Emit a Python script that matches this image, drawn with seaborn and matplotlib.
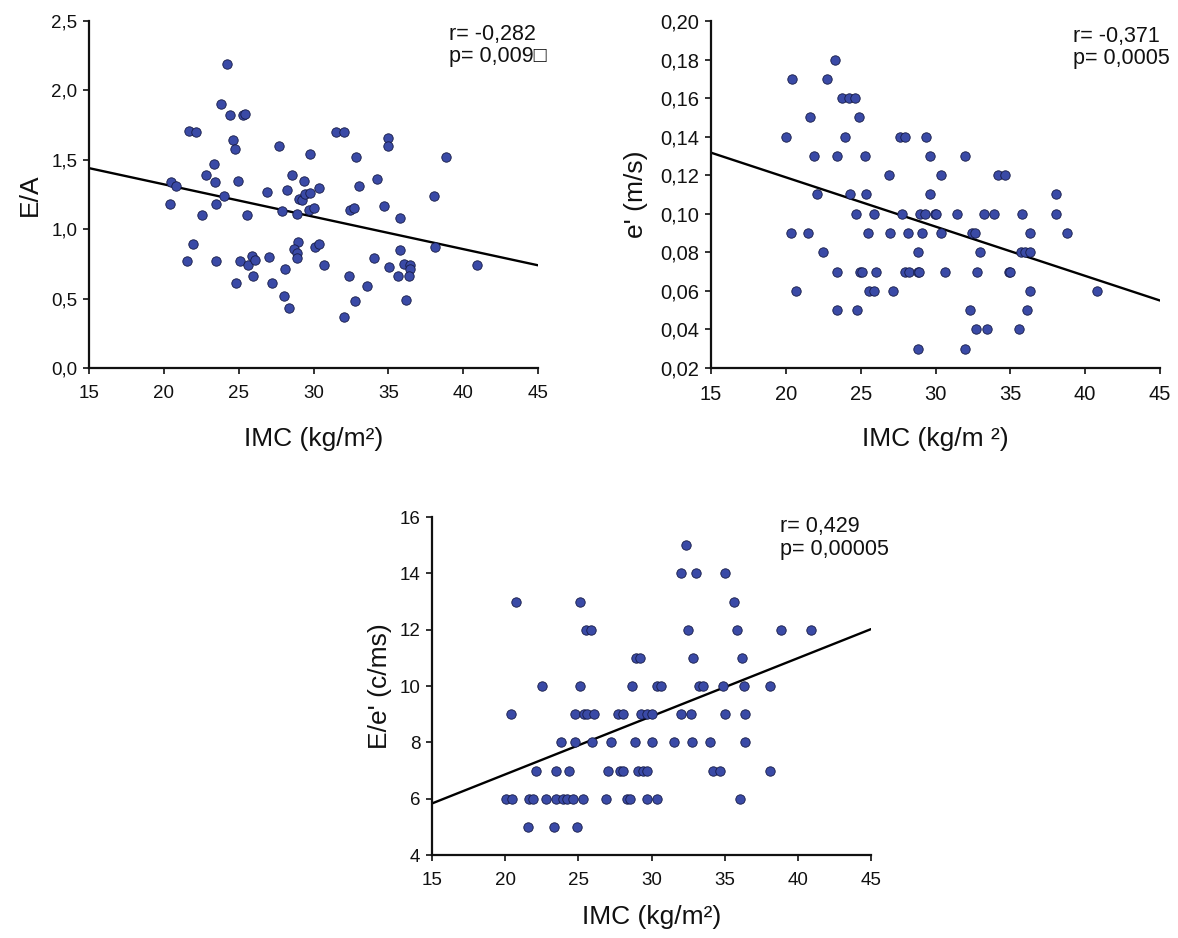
import matplotlib
matplotlib.use("Agg")
import matplotlib.pyplot as plt
import numpy as np
import pandas as pd
import seaborn as sns

# ---------------- data ----------------
# Panel 1: E/A vs IMC
imc_ea = [24.24, 23.84, 24.40, 25.31, 25.44, 21.66, 22.15, 24.64, 24.75, 27.71,
          29.74, 23.33, 22.82, 23.44, 28.56, 29.36, 24.93, 20.45, 20.79, 24.00,
          26.91, 28.25, 29.00, 29.23, 29.41, 29.74, 30.34, 20.41, 23.46, 27.87,
          28.87, 29.67, 30.03, 25.53, 22.55, 21.95, 21.55, 23.48, 25.09, 25.64,
          25.89, 26.07, 25.93, 27.05, 27.25, 24.80, 28.07, 28.05, 28.34, 28.96,
          28.67, 28.91, 28.87, 30.10, 30.38, 31.50, 32.01, 34.95, 35.00, 32.84,
          38.85, 33.06, 34.24, 38.05, 32.43, 32.68, 34.73, 35.80, 30.68, 32.37,
          33.55, 32.79, 32.01, 34.02, 35.02, 35.80, 36.02, 35.62, 36.42, 36.42,
          36.36, 36.18, 38.09, 40.92]
ea = [2.19, 1.90, 1.82, 1.82, 1.83, 1.71, 1.70, 1.64, 1.58, 1.60,
      1.54, 1.47, 1.39, 1.34, 1.39, 1.35, 1.35, 1.34, 1.31, 1.24,
      1.27, 1.28, 1.22, 1.21, 1.25, 1.26, 1.30, 1.18, 1.18, 1.13,
      1.11, 1.14, 1.15, 1.10, 1.10, 0.89, 0.77, 0.77, 0.77, 0.74,
      0.81, 0.78, 0.66, 0.80, 0.61, 0.61, 0.71, 0.52, 0.43, 0.91,
      0.86, 0.83, 0.79, 0.87, 0.89, 1.70, 1.70, 1.66, 1.60, 1.52,
      1.52, 1.31, 1.36, 1.24, 1.14, 1.15, 1.17, 1.08, 0.74, 0.66,
      0.59, 0.48, 0.37, 0.79, 0.73, 0.85, 0.75, 0.66, 0.74, 0.71,
      0.66, 0.49, 0.87, 0.74]
ea_fit_x = [15, 45]
ea_fit_y = [1.44, 0.74]

# Panel 2: e' vs IMC
imc_e = [23.28, 20.41, 22.74, 23.75, 24.19, 24.59, 21.61, 24.86, 19.98, 23.95,
         21.88, 23.41, 25.26, 22.10, 24.30, 25.37, 24.70, 25.90, 20.36, 21.48,
         25.46, 22.45, 23.41, 24.97, 25.07, 26.01, 20.70, 25.57, 25.86, 23.39,
         24.75, 27.62, 27.97, 29.35, 29.66, 31.98, 26.86, 30.40, 34.16, 34.67,
         29.62, 38.03, 27.79, 28.95, 29.29, 29.95, 30.04, 31.45, 33.27, 33.94,
         35.76, 38.03, 26.97, 28.17, 29.13, 30.35, 32.42, 32.62, 36.34, 38.79,
         28.80, 33.00, 35.74, 35.96, 36.34, 27.99, 28.26, 28.80, 28.91, 30.62,
         32.78, 34.92, 34.98, 27.17, 36.30, 40.81, 32.31, 36.12, 32.71, 33.47,
         35.58, 28.84, 31.98]
e_prime = [0.18, 0.17, 0.17, 0.16, 0.16, 0.16, 0.15, 0.15, 0.14, 0.14,
           0.13, 0.13, 0.13, 0.11, 0.11, 0.11, 0.10, 0.10, 0.09, 0.09,
           0.09, 0.08, 0.07, 0.07, 0.07, 0.07, 0.06, 0.06, 0.06, 0.05,
           0.05, 0.14, 0.14, 0.14, 0.13, 0.13, 0.12, 0.12, 0.12, 0.12,
           0.11, 0.11, 0.10, 0.10, 0.10, 0.10, 0.10, 0.10, 0.10, 0.10,
           0.10, 0.10, 0.09, 0.09, 0.09, 0.09, 0.09, 0.09, 0.09, 0.09,
           0.08, 0.08, 0.08, 0.08, 0.08, 0.07, 0.07, 0.07, 0.07, 0.07,
           0.07, 0.07, 0.07, 0.06, 0.06, 0.06, 0.05, 0.05, 0.04, 0.04,
           0.04, 0.03, 0.03]
e_fit_x = [15, 45]
e_fit_y = [0.1317, 0.0550]

# Panel 3: E/e' vs IMC
imc_ee = [20.76, 25.11, 25.50, 25.88, 28.93, 29.19, 22.51, 25.09, 28.64, 20.40,
          24.77, 25.36, 25.59, 26.04, 27.68, 28.05, 29.30, 29.69, 30.05, 23.81,
          24.74, 25.95, 27.23, 28.84, 30.00, 22.13, 23.47, 24.36, 27.02, 27.82,
          28.02, 29.05, 29.39, 29.71, 20.03, 20.44, 21.60, 21.92, 22.81, 23.45,
          23.95, 24.22, 24.63, 25.29, 26.91, 28.30, 28.55, 29.69, 30.39, 21.53,
          23.31, 24.88, 32.37, 32.01, 33.03, 34.99, 35.63, 32.49, 35.81, 38.86,
          40.89, 32.83, 36.17, 30.37, 30.64, 33.28, 33.53, 34.92, 36.33, 38.11,
          32.01, 32.67, 35.04, 36.40, 31.51, 32.76, 33.99, 36.40, 34.22, 34.69,
          38.11, 36.02]
ee = [13, 13, 12, 12, 11, 11, 10, 10, 10, 9,
      9, 9, 9, 9, 9, 9, 9, 9, 9, 8,
      8, 8, 8, 8, 8, 7, 7, 7, 7, 7,
      7, 7, 7, 7, 6, 6, 6, 6, 6, 6,
      6, 6, 6, 6, 6, 6, 6, 6, 6, 5,
      5, 5, 15, 14, 14, 14, 13, 12, 12, 12,
      12, 11, 11, 10, 10, 10, 10, 10, 10, 10,
      9, 9, 9, 9, 8, 8, 8, 8, 7, 7,
      7, 6]
ee_fit_x = [15, 45]
ee_fit_y = [5.83, 12.02]

# ticks / labels
x_ticks = [15, 20, 25, 30, 35, 40, 45]
ea_ticks = [0.0, 0.5, 1.0, 1.5, 2.0, 2.5]
ea_ticklabels = ["0,0", "0,5", "1,0", "1,5", "2,0", "2,5"]
e_ticks = [0.02, 0.04, 0.06, 0.08, 0.10, 0.12, 0.14, 0.16, 0.18, 0.20]
e_ticklabels = ["0,02", "0,04", "0,06", "0,08", "0,10", "0,12", "0,14", "0,16", "0,18", "0,20"]
ee_ticks = [4, 6, 8, 10, 12, 14, 16]
ee_ticklabels = ["4", "6", "8", "10", "12", "14", "16"]

ea_stats = ["r= -0,282", "p= 0,009\u25a1"]
e_stats = ["r= -0,371", "p= 0,0005"]
ee_stats = ["r= 0,429", "p= 0,00005"]

# ---------------- style ----------------
sns.set_style("ticks")
plt.rcParams["font.family"] = ["Liberation Sans", "DejaVu Sans"]

W, H = 1178, 938
fig = plt.figure(figsize=(W / 100, H / 100), dpi=100)

POINT = "#3a4aa6"
EDGE = "#151a45"


def px_rect(left, top, right, bottom):
    return [left / W, 1 - bottom / H, (right - left) / W, (bottom - top) / H]


def panel(rect, x, y, fx, fy, ylim, yticks, yticklabels, xlabel, ylabel,
          stats, stats_pos, ylabel_x, xlabel_y, tick_fs):
    ax = fig.add_axes(rect)
    df = pd.DataFrame({"x": x, "y": y})
    sns.lineplot(x=fx, y=fy, ax=ax, color="black", lw=1.7, zorder=1)
    sns.scatterplot(data=df, x="x", y="y", ax=ax, color=POINT,
                    edgecolor=EDGE, linewidth=0.6, s=46, zorder=3)
    ax.set_xlim(15, 45)
    ax.set_ylim(*ylim)
    ax.set_xticks(x_ticks)
    ax.set_xticklabels([str(t) for t in x_ticks])
    ax.set_yticks(yticks)
    ax.set_yticklabels(yticklabels)
    sns.despine(ax=ax)
    for s in ("left", "bottom"):
        ax.spines[s].set_linewidth(1.6)
        ax.spines[s].set_color("#111111")
    ax.tick_params(axis="both", direction="out", length=4, width=1.2,
                   colors="#111111", labelsize=tick_fs)
    ax.tick_params(axis="x", pad=8)
    ax.tick_params(axis="y", pad=4.5)
    ax.set_xlabel(xlabel, fontsize=19, color="#111111")
    ax.set_ylabel(ylabel, fontsize=19, color="#111111", va="center")
    ax.xaxis.set_label_coords(0.5, xlabel_y)
    ax.yaxis.set_label_coords(ylabel_x, 0.5)
    (sx, sy1, sy2) = stats_pos
    ax.text(sx, sy1, stats[0], transform=ax.transAxes, fontsize=15.5,
            ha="left", va="center", color="#111111")
    ax.text(sx, sy2, stats[1], transform=ax.transAxes, fontsize=15.5,
            ha="left", va="center", color="#111111")
    return ax


panel(px_rect(89, 21, 538, 368), imc_ea, ea, ea_fit_x, ea_fit_y,
      (0, 2.5), ea_ticks, ea_ticklabels, "IMC (kg/m\u00b2)", "E/A",
      ea_stats, (0.8025, 0.9625, 0.8977), -0.131, -0.170, 13.5)

panel(px_rect(711, 21, 1160, 368), imc_e, e_prime, e_fit_x, e_fit_y,
      (0.02, 0.20), e_ticks, e_ticklabels, "IMC (kg/m \u00b2)", "e' (m/s)",
      e_stats, (0.8055, 0.9553, 0.892), -0.168, -0.170, 14.5)

panel(px_rect(432, 517, 871, 855), imc_ee, ee, ee_fit_x, ee_fit_y,
      (4, 16), ee_ticks, ee_ticklabels, "IMC (kg/m\u00b2)", "E/e' (c/ms)",
      ee_stats, (0.793, 0.972, 0.904), -0.118, -0.148, 13.5)

fig.savefig("out.png", dpi=100)
